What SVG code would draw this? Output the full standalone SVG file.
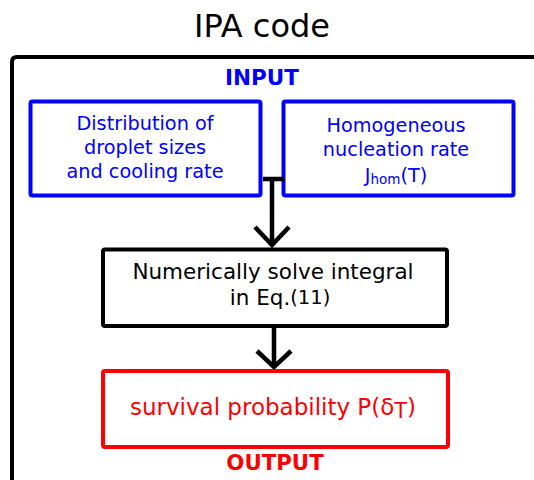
<svg xmlns="http://www.w3.org/2000/svg" width="534" height="480" viewBox="0 0 534 480">
<style>
text{font-family:"DejaVu Sans","Verdana",sans-serif;text-anchor:middle}
.blue{fill:#0000ff}
.red{fill:#ff0000}
.bx{fill:#fff;stroke-width:4}
.conn{stroke:#000;stroke-width:4.5;fill:none}
</style>
<rect width="534" height="480" fill="#fff"/>
<g id="frame">
<text x="262" y="37" font-size="32">IPA code</text>
<path d="M12,480 V62 Q12,57 17,57 H534" fill="none" stroke="#000" stroke-width="4"/>
</g>
<g id="input-label"><text class="blue" x="262" y="85" font-size="21.5" font-weight="bold">INPUT</text></g>
<g id="node-dist">
<rect class="bx" x="30.5" y="101.5" width="230" height="94" rx="2" stroke="#0000ff" stroke-width="3.5"/>
<text class="blue" font-size="19.3"><tspan x="145" y="130">Distribution of</tspan><tspan x="145" y="154">droplet sizes</tspan><tspan x="145" y="178">and cooling rate</tspan></text>
</g>
<g id="node-rate">
<rect class="bx" x="283.5" y="101.5" width="230" height="94" rx="2" stroke="#0000ff" stroke-width="3.5"/>
<text class="blue" font-size="19.3"><tspan x="396" y="132">Homogeneous</tspan><tspan x="396" y="156">nucleation rate</tspan><tspan x="396" y="182">J<tspan font-size="13.5" dy="2">hom</tspan><tspan dy="-2">(T)</tspan></tspan></text>
</g>
<g id="node-solve">
<rect class="bx" x="103" y="249.5" width="344" height="76.5" rx="2" stroke="#000"/>
<text font-size="21.5"><tspan x="273" y="279">Numerically solve integral</tspan><tspan x="280" y="305">in Eq.<tspan font-size="19.5" dy="-1">(11)</tspan></tspan></text>
</g>
<g id="node-output">
<rect class="bx" x="103" y="371" width="345" height="76" rx="2" stroke="#ff0000"/>
<text class="red" x="273" y="415" font-size="23">survival probability P(δ<tspan font-size="21" dy="3">T</tspan><tspan dy="-3">)</tspan></text>
</g>
<g id="output-label"><text class="red" x="275" y="470" font-size="21.3" font-weight="bold">OUTPUT</text></g>
<g id="connectors">
<path class="conn" d="M263,179 H284 M272,179 V245 M255,227 L272,245 L289,227"/>
<path class="conn" d="M274,326 V367 M257,351 L274,367 L291,351"/>
</g>
</svg>
